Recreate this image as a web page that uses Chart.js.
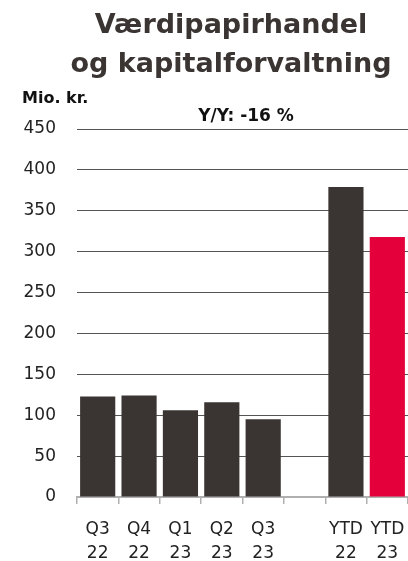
<!DOCTYPE html>
<html>
<head>
<meta charset="utf-8">
<script src="https://cdn.jsdelivr.net/npm/chart.js@4"></script>
<style>
  html, body { margin: 0; padding: 0; overflow: hidden; background: #fff; }
  canvas { display: block; }
</style>
</head>
<body>
<canvas id="c" width="408" height="561"></canvas>
<script>
const categories = [['Q3', '22'], ['Q4', '22'], ['Q1', '23'], ['Q2', '23'], ['Q3', '23'], '', ['YTD', '22'], ['YTD', '23']];
const values = [123, 124, 106, 116, 95, null, 379, 318];
const barColors = ['#3a3532', '#3a3532', '#3a3532', '#3a3532', '#3a3532', '#3a3532', '#3a3532', '#e4003a'];
const titleLines = ['Værdipapirhandel', 'og kapitalforvaltning'];
const unitLabel = 'Mio. kr.';
const changeLabel = 'Y/Y: -16 %';
const yTicks = { min: 0, max: 450, step: 50 };

const FONT = '"DejaVu Sans", sans-serif';

const textPlugin = {
  id: 'texts',
  afterDraw(chart) {
    const ctx = chart.ctx;
    ctx.save();
    ctx.fillStyle = '#3a3532';
    ctx.font = 'bold 27px ' + FONT;
    ctx.textAlign = 'center';
    ctx.textBaseline = 'alphabetic';
    ctx.fillText(titleLines[0], 231, 33);
    ctx.fillText(titleLines[1], 231, 72);
    ctx.fillStyle = '#111';
    ctx.font = 'bold 16px ' + FONT;
    ctx.textAlign = 'left';
    ctx.fillText(unitLabel, 22, 103);
    ctx.font = 'bold 17px ' + FONT;
    ctx.textAlign = 'center';
    ctx.fillText(changeLabel, 246, 121);
    ctx.restore();
  }
};

new Chart(document.getElementById('c'), {
  type: 'bar',
  data: {
    labels: categories,
    datasets: [{
      data: values,
      backgroundColor: barColors,
      borderWidth: 0,
      barPercentage: 0.85,
      categoryPercentage: 1.0
    }]
  },
  options: {
    responsive: false,
    animation: false,
    devicePixelRatio: 1,
    layout: { padding: { top: 129, left: 0, right: 0, bottom: 0 } },
    plugins: { legend: { display: false }, title: { display: false }, tooltip: { enabled: false } },
    scales: {
      x: {
        offset: true,
        grid: { display: true, drawOnChartArea: false, offset: true, color: '#b0b0b0', lineWidth: 1.5, tickLength: 7 },
        border: { display: true, color: '#b0b0b0', width: 2 },
        ticks: { color: '#222', font: { family: FONT, size: 17, lineHeight: 1.45 }, padding: 13, maxRotation: 0, autoSkip: false },
        afterFit(scale) { scale.height = 64; scale.paddingLeft = 0; scale.paddingRight = 0; }
      },
      y: {
        min: yTicks.min, max: yTicks.max,
        grid: { color: '#555', lineWidth: 1, drawTicks: false },
        border: { display: false },
        ticks: { stepSize: yTicks.step, color: '#222', font: { family: FONT, size: 17 }, padding: 21 },
        afterFit(scale) { scale.width = 77; }
      }
    }
  },
  plugins: [textPlugin]
});
</script>
</body>
</html>
